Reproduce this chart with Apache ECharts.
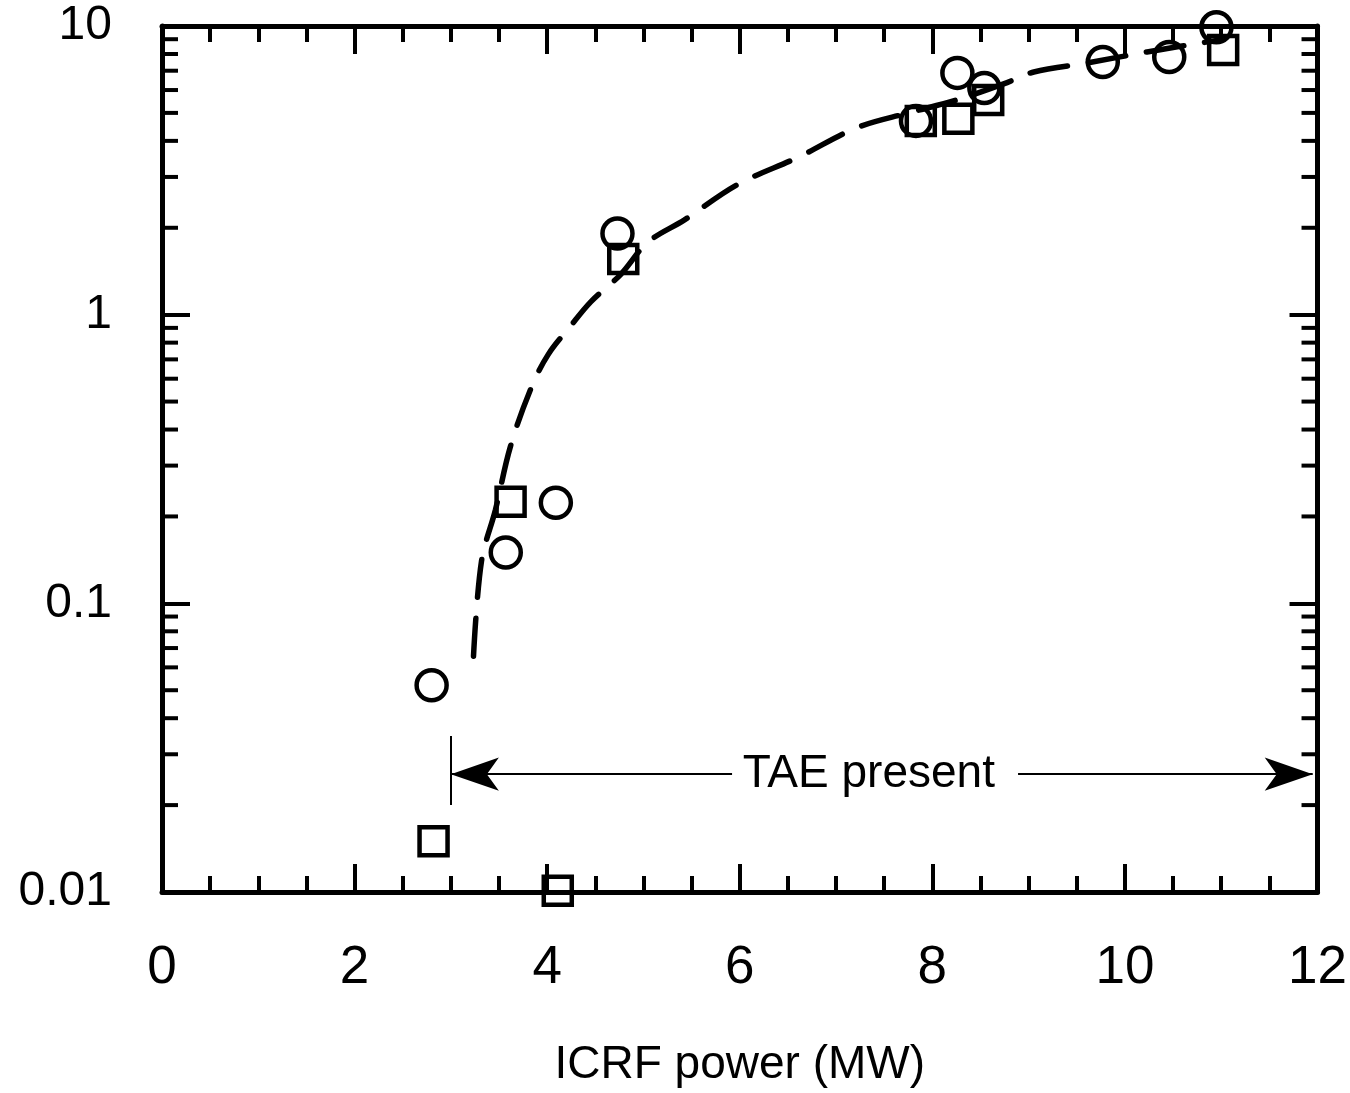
<!DOCTYPE html>
<html>
<head>
<meta charset="utf-8">
<style>
  html, body { margin: 0; padding: 0; background: #ffffff; }
  #chart { width: 1350px; height: 1093px; }
</style>
<script src="https://cdn.jsdelivr.net/npm/echarts@6/dist/echarts.min.js"></script>
</head>
<body>
<div id="chart"></div>
<script>
// ---- data ----
const xTickLabels = ['0', '2', '4', '6', '8', '10', '12'];
const yTickLabels = ['0.01', '0.1', '1', '10'];
const yMinorTicks = [0.02, 0.03, 0.04, 0.05, 0.06, 0.07, 0.08, 0.09,
                     0.2, 0.3, 0.4, 0.5, 0.6, 0.7, 0.8, 0.9,
                     2, 3, 4, 5, 6, 7, 8, 9];

const circleX = [2.80, 3.57, 4.09, 4.73, 7.83, 8.26, 8.54, 9.77, 10.46, 10.95];
const circleY = [0.052, 0.150, 0.223, 1.91, 4.69, 6.88, 6.10, 7.50, 7.81, 9.9];

const squareX = [2.82, 4.11, 3.62, 4.79, 7.88, 8.27, 8.58, 11.02];
const squareY = [0.0150, 0.0101, 0.225, 1.56, 4.69, 4.77, 5.54, 8.26];

const curveX = [3.235, 3.318, 3.463, 3.618, 3.835, 4.010, 4.238, 4.455, 4.765, 5.044,
                5.426, 5.974, 6.615, 7.214, 7.752, 8.25, 8.74, 9.054, 9.612, 10.23, 10.86, 11.0];
const curveY = [0.0656, 0.140, 0.211, 0.349, 0.559, 0.727, 0.909, 1.11, 1.38, 1.78,
                2.13, 2.82, 3.52, 4.44, 5.00, 5.54, 6.3, 6.93, 7.45, 8.13, 8.81, 8.95];

// "TAE present" annotation (data coordinates)
const taeText = 'TAE present';
const taeY = 0.0256;
const taeStartX = 3.0;
const taeEndX = 11.95;
const taeGapX = [5.92, 8.89];
const taeTextX = 7.34;
const taeBarY = [0.0200, 0.0347];

const FONT = '"Liberation Sans", Arial, Helvetica, sans-serif';

const chart = echarts.init(document.getElementById('chart'), null, { renderer: 'canvas' });

function xAxisDef(pos, showLabel) {
  return {
    type: 'value', position: pos, min: 0, max: 12, interval: 2,
    axisLine: { show: true, onZero: false, lineStyle: { color: '#000', width: 5 } },
    axisTick: { show: true, inside: true, length: 28, lineStyle: { color: '#000', width: 4 } },
    minorTick: { show: true, splitNumber: 4, length: 16, lineStyle: { color: '#000', width: 4 } },
    splitLine: { show: false }, minorSplitLine: { show: false },
    axisLabel: {
      show: showLabel, margin: 50, color: '#000', fontSize: 53, fontFamily: FONT,
      formatter: v => xTickLabels[Math.round(v / 2)]
    },
    name: showLabel ? 'ICRF power (MW)' : '',
    nameLocation: 'middle', nameGap: 150,
    nameTextStyle: { color: '#000', fontSize: 46, fontFamily: FONT }
  };
}
function yAxisDef(pos, showLabel) {
  return {
    type: 'log', logBase: 10, position: pos, min: 0.01, max: 10,
    axisLine: { show: true, onZero: false, lineStyle: { color: '#000', width: 5 } },
    axisTick: { show: true, inside: true, length: 28, lineStyle: { color: '#000', width: 4 } },
    splitLine: { show: false },
    axisLabel: {
      show: showLabel, margin: 50, color: '#000', fontSize: 48, fontFamily: FONT,
      showMinLabel: true, showMaxLabel: true,
      formatter: v => yTickLabels[Math.round(Math.log10(v)) + 2]
    }
  };
}

const markerStyle = { color: 'rgba(0,0,0,0)', borderColor: '#000', borderWidth: 4.5, opacity: 1 };

const option = {
  animation: false,
  backgroundColor: '#ffffff',
  grid: { left: 162, right: 29, top: 26, bottom: 200, containLabel: false },
  xAxis: [xAxisDef('bottom', true), xAxisDef('top', false)],
  yAxis: [yAxisDef('left', true), yAxisDef('right', false)],
  series: [
    {
      type: 'line', name: 'fit',
      data: curveX.map((x, i) => [x, curveY[i]]),
      smooth: 0.35, showSymbol: false, symbol: 'none',
      lineStyle: { color: '#000', width: 5.5, type: [38, 21], cap: 'round' },
      z: 2,
      markLine: {
        silent: true, animation: false,
        label: { show: false },
        lineStyle: { color: '#000', width: 2, type: 'solid', opacity: 1 },
        data: [
          [ { coord: [taeStartX, taeY], symbol: 'arrow', symbolSize: [25, 48] },
            { coord: [taeGapX[0], taeY], symbol: 'none' } ],
          [ { coord: [taeGapX[1], taeY], symbol: 'none' },
            { coord: [taeEndX, taeY], symbol: 'arrow', symbolSize: [25, 48] } ],
          [ { coord: [taeStartX, taeBarY[0]], symbol: 'none' },
            { coord: [taeStartX, taeBarY[1]], symbol: 'none' } ]
        ]
      }
    },
    {
      type: 'scatter', name: 'circles', clip: false,
      data: circleX.map((x, i) => [x, circleY[i]]),
      symbol: 'circle', symbolSize: 30, itemStyle: markerStyle, z: 3
    },
    {
      type: 'scatter', name: 'squares', clip: false,
      data: squareX.map((x, i) => [x, squareY[i]]),
      symbol: 'rect', symbolSize: 28, itemStyle: markerStyle, z: 3
    },
    {
      type: 'scatter', name: 'tae-label', clip: false, silent: true,
      data: [[taeTextX, taeY]], symbolSize: 0,
      itemStyle: { opacity: 1 },
      label: {
        show: true, position: 'inside', formatter: taeText,
        color: '#000', fontSize: 46, fontFamily: FONT, opacity: 1
      }
    },
    {
      type: 'custom', name: 'y-minor-ticks', clip: false, silent: true,
      data: yMinorTicks.map(v => [0, v]).concat(yMinorTicks.map(v => [12, v])),
      renderItem: function (params, api) {
        const xv = api.value(0), yv = api.value(1);
        const p = api.coord([xv, yv]);
        const dir = xv === 0 ? 1 : -1;
        return {
          type: 'line',
          shape: { x1: p[0], y1: p[1], x2: p[0] + dir * 16, y2: p[1] },
          style: { stroke: '#000', lineWidth: 4 }
        };
      },
      z: 4
    }
  ]
};
chart.setOption(option);
</script>
</body>
</html>
